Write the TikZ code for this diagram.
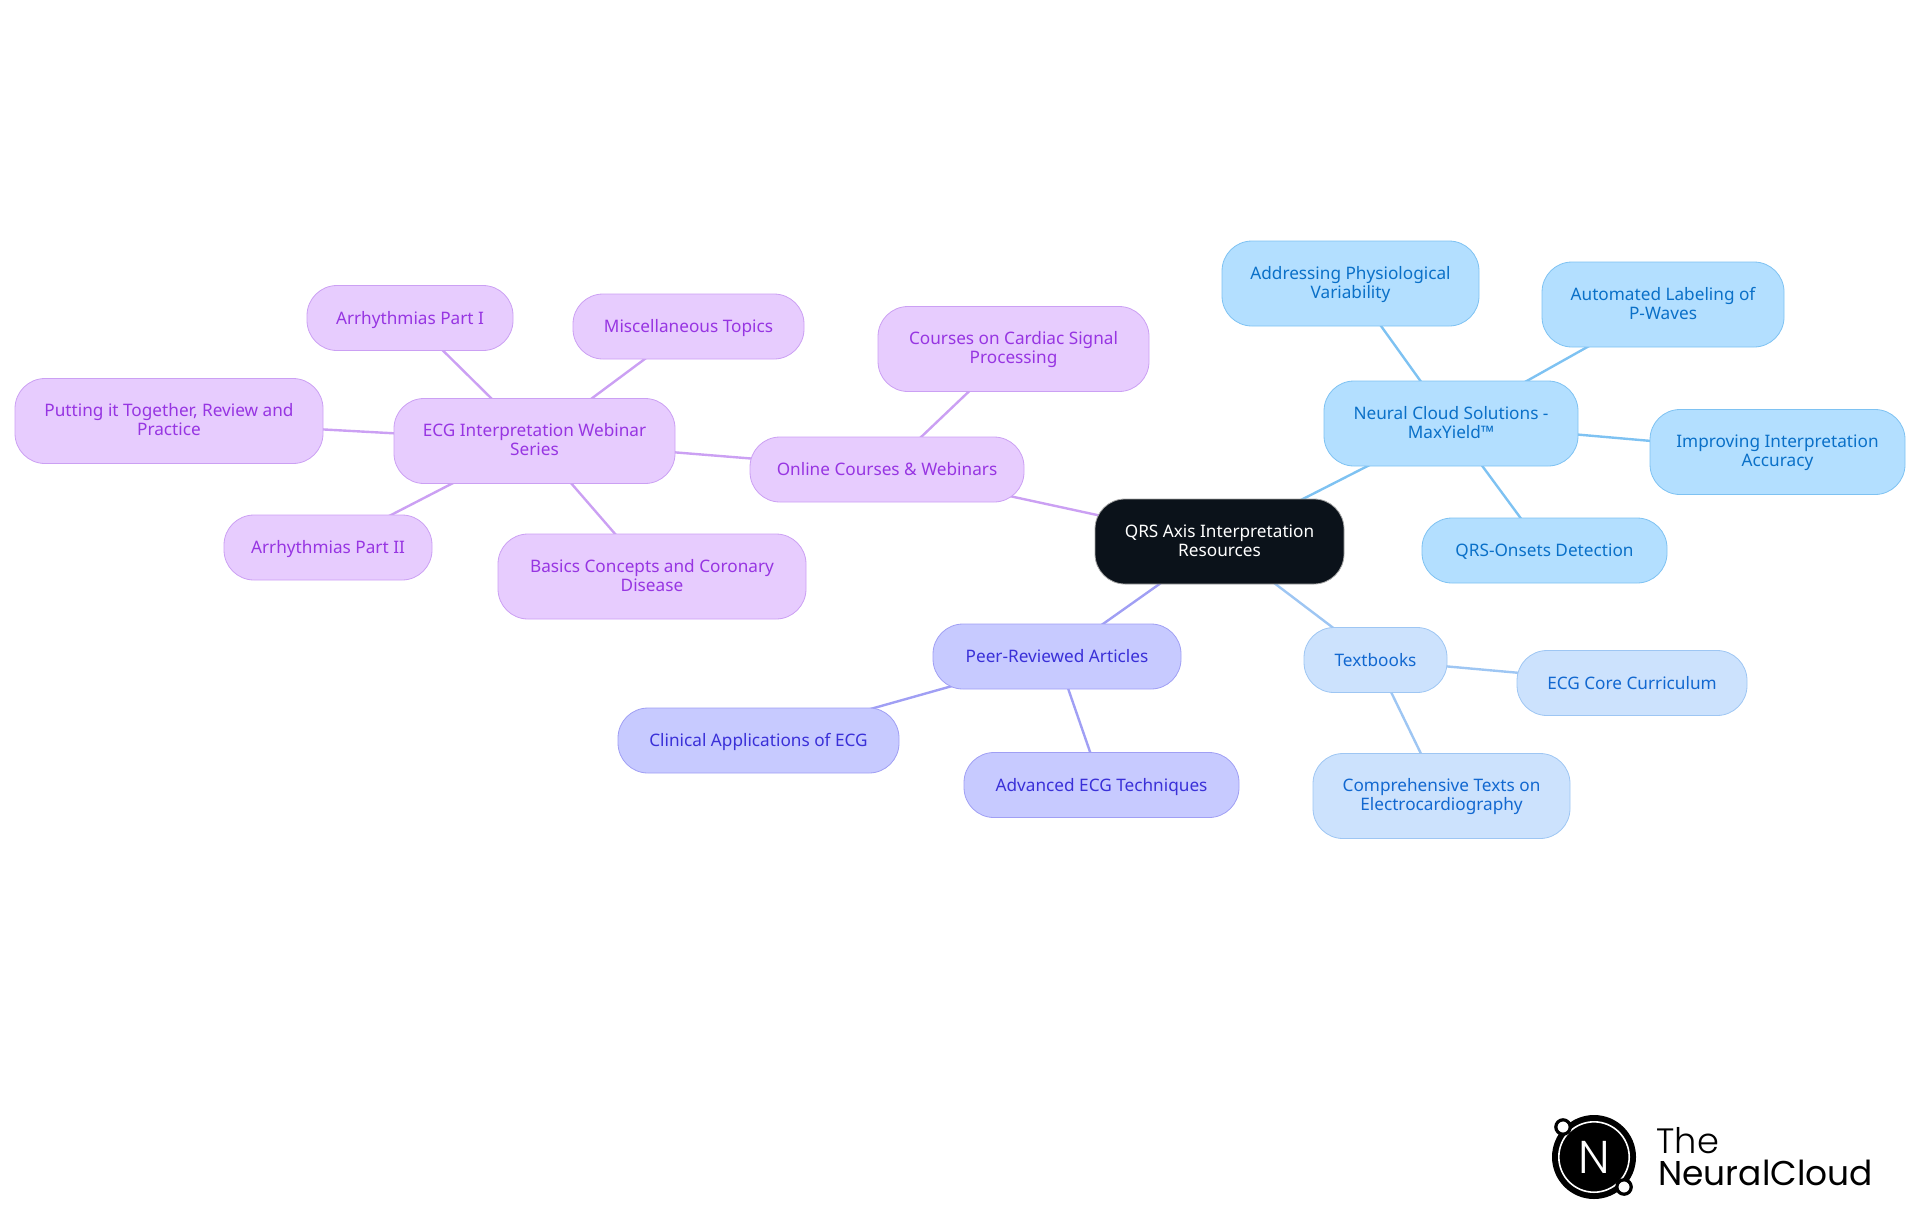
\documentclass[tikz,border=0pt]{standalone}
\usepackage{fontspec}
\usepackage{xcolor}
\usetikzlibrary{backgrounds}
\setmainfont{Noto Sans}
\newfontfamily\logofont[UprightFont=* Light]{Poppins}
\newfontfamily\logoboldfont{Poppins}
\newcommand{\boxstrut}{\rule[-2.85pt]{0pt}{12pt}}
\newcommand{\tallstrut}{\rule[-2.85pt]{0pt}{20.2pt}}
\definecolor{purple-fill}{HTML}{E7CCFE}
\definecolor{purple-line}{HTML}{CBA0F3}
\definecolor{purple-text}{HTML}{9735E2}
\definecolor{sky-fill}{HTML}{B3DFFF}
\definecolor{sky-line}{HTML}{7EC2F2}
\definecolor{sky-text}{HTML}{0A70C8}
\definecolor{pale-fill}{HTML}{CCE2FD}
\definecolor{pale-line}{HTML}{9EC6F3}
\definecolor{pale-text}{HTML}{1268D0}
\definecolor{indigo-fill}{HTML}{C7CAFF}
\definecolor{indigo-line}{HTML}{A09FF4}
\definecolor{indigo-text}{HTML}{3A30D8}
\definecolor{root-fill}{HTML}{0B121A}
\tikzset{
    box-size/.style 2 args = {minimum width=#1*0.5pt, minimum height=#2*0.5pt},
    map-box/.style = {rectangle, rounded corners=15pt, inner sep=0pt, thin, align=center, font=\fontsize{8.6}{9.5}\selectfont, execute at begin node=\boxstrut, execute at end node=\boxstrut},
    two-line/.style = {execute at begin node=\tallstrut},
    root-box/.style = {map-box, draw=gray!70, fill=root-fill, text=white},
    purple-box/.style = {map-box, draw=purple-line, fill=purple-fill, text=purple-text},
    sky-box/.style = {map-box, draw=sky-line, fill=sky-fill, text=sky-text},
    pale-box/.style = {map-box, draw=pale-line, fill=pale-fill, text=pale-text},
    indigo-box/.style = {map-box, draw=indigo-line, fill=indigo-fill, text=indigo-text},
    purple-edge/.style = {draw=purple-line, line width=1.2pt},
    sky-edge/.style = {draw=sky-line, line width=1.2pt},
    pale-edge/.style = {draw=pale-line, line width=1.2pt},
    indigo-edge/.style = {draw=indigo-line, line width=1.2pt},
}

\begin{document}
\begin{tikzpicture}[x=0.5pt,y=-0.5pt]
\useasboundingbox (0,0) rectangle (1920,1215);

\node[root-box, two-line, box-size={249}{85}] (root) at (1219.5,541.5) {QRS Axis Interpretation\\Resources};

% online courses
\node[purple-box, box-size={274}{65}] (online) at (887,469.5) {Online Courses \& Webinars};
\node[purple-box, two-line, box-size={271}{85}] (courses) at (1013.5,349) {Courses on Cardiac Signal\\Processing};
\node[purple-box, two-line, box-size={281}{85}] (webinar) at (534.5,441) {ECG Interpretation Webinar\\Series};
\node[purple-box, box-size={206}{65}] (arrone) at (410,318) {Arrhythmias Part I};
\node[purple-box, box-size={231}{65}] (misc) at (688.5,326.5) {Miscellaneous Topics};
\node[purple-box, two-line, box-size={308}{85}] (putting) at (169,421) {Putting it Together, Review and\\Practice};
\node[purple-box, box-size={208}{65}] (arrtwo) at (328,547.5) {Arrhythmias Part II};
\node[purple-box, two-line, box-size={308}{85}] (basics) at (652,576.5) {Basics Concepts and Coronary\\Disease};

% neural cloud
\node[sky-box, two-line, box-size={254}{85}] (neural) at (1451,423.5) {Neural Cloud Solutions -\\MaxYield™};
\node[sky-box, two-line, box-size={257}{85}] (addressing) at (1350.5,283.5) {Addressing Physiological\\Variability};
\node[sky-box, two-line, box-size={242}{85}] (automated) at (1663,304.5) {Automated Labeling of\\P-Waves};
\node[sky-box, two-line, box-size={255}{85}] (improving) at (1777.5,452) {Improving Interpretation\\Accuracy};
\node[sky-box, box-size={245}{65}] (onsets) at (1544.5,550.5) {QRS-Onsets Detection};

% textbooks
\node[pale-box, box-size={143}{65}] (textbooks) at (1375.5,660) {Textbooks};
\node[pale-box, box-size={230}{65}] (core) at (1632,683) {ECG Core Curriculum};
\node[pale-box, two-line, box-size={257}{85}] (comprehensive) at (1441.5,796) {Comprehensive Texts on\\Electrocardiography};

% articles
\node[indigo-box, box-size={248}{65}] (peer) at (1057,656.5) {Peer-Reviewed Articles};
\node[indigo-box, box-size={281}{65}] (clinical) at (758.5,740.5) {Clinical Applications of ECG};
\node[indigo-box, box-size={275}{65}] (advanced) at (1101.5,785) {Advanced ECG Techniques};

\begin{scope}[on background layer]
\draw[purple-edge] (root.center) -- (online.center);
\draw[purple-edge] (online.center) -- (courses.center);
\draw[purple-edge] (online.center) -- (webinar.center);
\draw[purple-edge] (webinar.center) -- (arrone.center);
\draw[purple-edge] (webinar.center) -- (misc.center);
\draw[purple-edge] (webinar.center) -- (putting.center);
\draw[purple-edge] (webinar.center) -- (arrtwo.center);
\draw[purple-edge] (webinar.center) -- (basics.center);
\draw[sky-edge] (root.center) -- (neural.center);
\draw[sky-edge] (neural.center) -- (addressing.center);
\draw[sky-edge] (neural.center) -- (automated.center);
\draw[sky-edge] (neural.center) -- (improving.center);
\draw[sky-edge] (neural.center) -- (onsets.center);
\draw[pale-edge] (root.center) -- (textbooks.center);
\draw[pale-edge] (textbooks.center) -- (core.center);
\draw[pale-edge] (textbooks.center) -- (comprehensive.center);
\draw[indigo-edge] (root.center) -- (peer.center);
\draw[indigo-edge] (peer.center) -- (clinical.center);
\draw[indigo-edge] (peer.center) -- (advanced.center);
\end{scope}

% logo
\fill[black] (1594,1157) circle (21pt);
\draw[white, line width=0.8pt] (1594,1157) circle (17.6pt);
\draw[black, fill=white, line width=1.6pt] (1563,1127) circle (3.6pt);
\draw[black, fill=white, line width=1.6pt] (1624,1187) circle (3.6pt);
\node[text=white, inner sep=0pt, font=\logofont\fontsize{23}{23}\selectfont] (logoletter) at (1594,1157) {N};
\node[anchor=base west, inner sep=0pt, text=black, font=\logofont\fontsize{17.6}{17.6}\selectfont] (logothe) at (1656,1153) {The};
\node[anchor=base west, inner sep=0pt, text=black, font=\logoboldfont\fontsize{17.2}{17.2}\selectfont] (logoname) at (1658,1185) {NeuralCloud};
\end{tikzpicture}
\end{document}
